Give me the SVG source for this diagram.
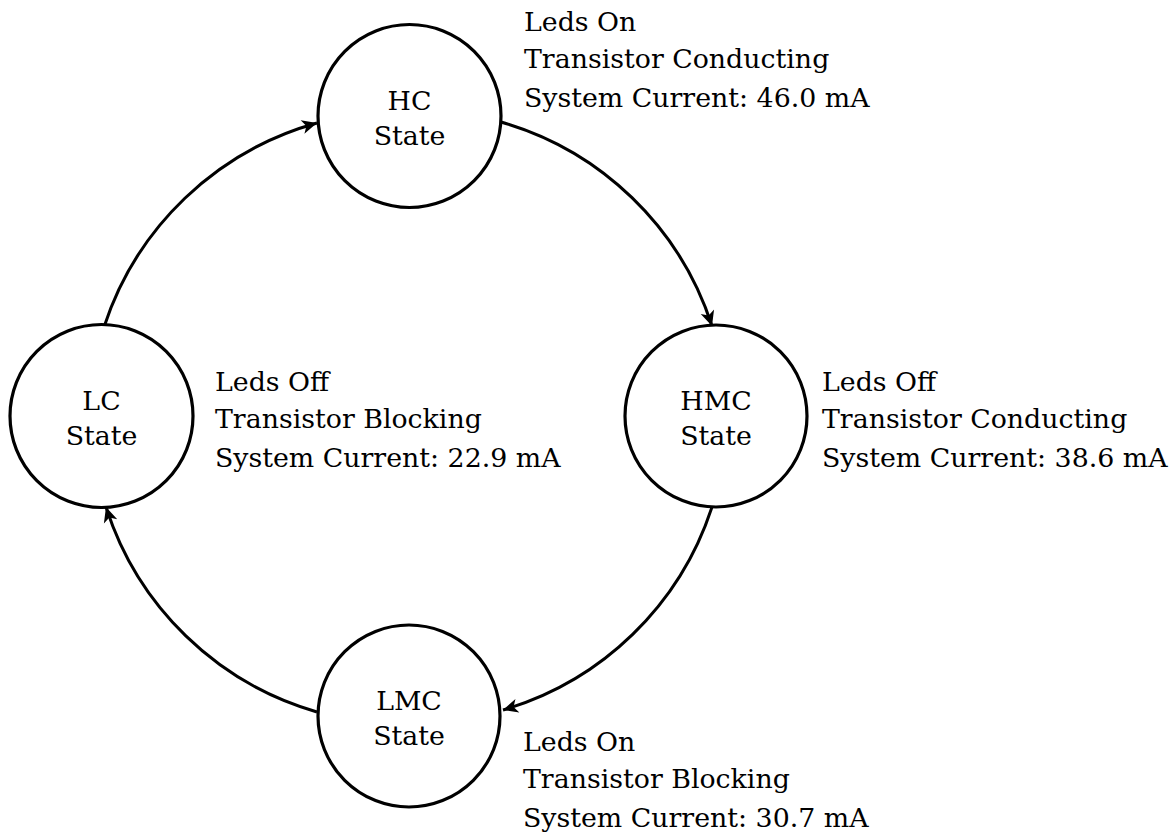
<svg xmlns="http://www.w3.org/2000/svg" width="1172" height="835" viewBox="0 0 1172 835">
<defs>
<style>
.node{fill:#fff;stroke:#000;stroke-width:3.2}
.lbl{font-family:"DejaVu Serif","Liberation Serif",serif;font-size:26.8px;fill:#000}
.c{text-anchor:middle}
.edge{fill:none;stroke:#000;stroke-width:3}
</style>
<marker id="arr" viewBox="-16 -8 18 16" markerWidth="18" markerHeight="16" refX="0" refY="0" orient="auto" markerUnits="userSpaceOnUse">
<path d="M-15,-7 L0,0 L-15,7 L-11,0 z" fill="#000"/>
</marker>
</defs>
<rect width="1172" height="835" fill="#fff"/>
<g id="connectors">
<path class="edge" d="M501,122 A312,312 0 0 1 712,326" marker-end="url(#arr)"/>
<path class="edge" d="M712,507 A312,312 0 0 1 503,710" marker-end="url(#arr)"/>
<path class="edge" d="M317,712 A312,312 0 0 1 106,507" marker-end="url(#arr)"/>
<path class="edge" d="M104,327 A312,312 0 0 1 317,123" marker-end="url(#arr)"/>
</g>
<g id="hc">
<circle class="node" cx="409.5" cy="116" r="91.5"/>
<text class="lbl c" x="409.5" y="110">HC</text>
<text class="lbl c" x="409.5" y="145">State</text>
</g>
<g id="hmc">
<circle class="node" cx="716" cy="416" r="91"/>
<text class="lbl c" x="716" y="410">HMC</text>
<text class="lbl c" x="716" y="445">State</text>
</g>
<g id="lmc">
<circle class="node" cx="409" cy="716" r="91"/>
<text class="lbl c" x="409" y="710">LMC</text>
<text class="lbl c" x="409" y="745">State</text>
</g>
<g id="lc">
<circle class="node" cx="101.5" cy="416" r="91.5"/>
<text class="lbl c" x="101.5" y="410">LC</text>
<text class="lbl c" x="101.5" y="445">State</text>
</g>
<g id="hc-info">
<text class="lbl" x="524" y="31">Leds On</text>
<text class="lbl" x="524" y="68">Transistor Conducting</text>
<text class="lbl" x="524" y="107">System Current: 46.0 mA</text>
</g>
<g id="hmc-info">
<text class="lbl" x="822" y="391">Leds Off</text>
<text class="lbl" x="822" y="428">Transistor Conducting</text>
<text class="lbl" x="822" y="467">System Current: 38.6 mA</text>
</g>
<g id="lc-info">
<text class="lbl" x="215" y="391">Leds Off</text>
<text class="lbl" x="215" y="428">Transistor Blocking</text>
<text class="lbl" x="215" y="467">System Current: 22.9 mA</text>
</g>
<g id="lmc-info">
<text class="lbl" x="523" y="751">Leds On</text>
<text class="lbl" x="523" y="788">Transistor Blocking</text>
<text class="lbl" x="523" y="827">System Current: 30.7 mA</text>
</g>
</svg>
